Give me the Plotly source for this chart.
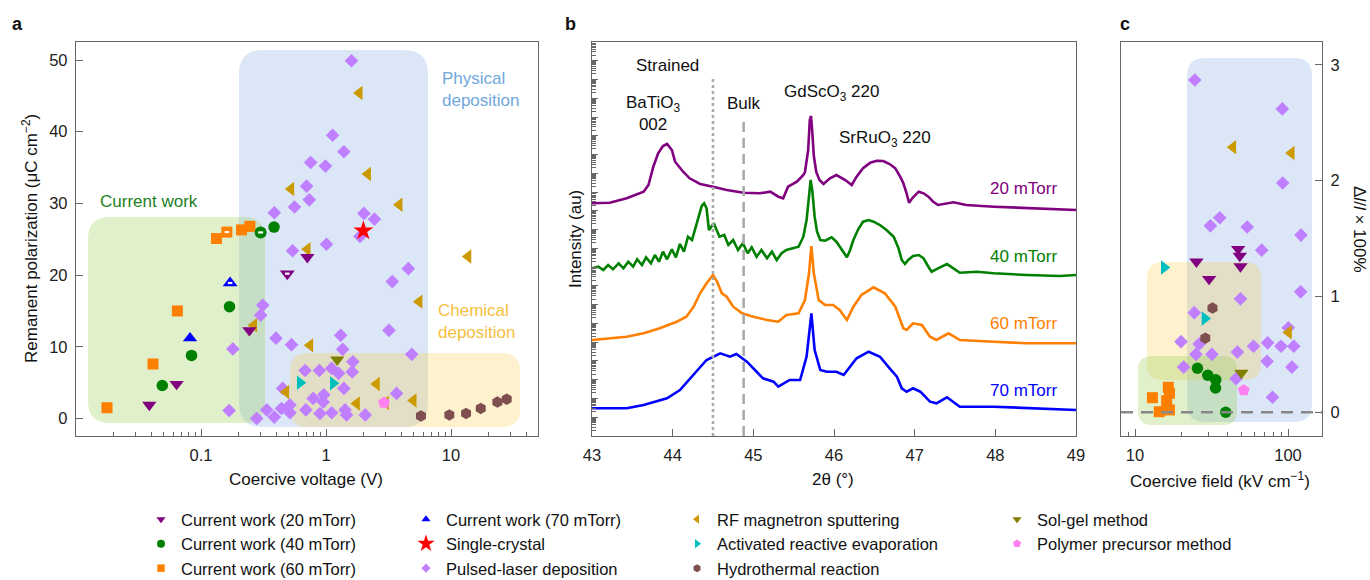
import math
import plotly.graph_objects as go

W, H = 1370, 580
FONT = "Liberation Sans, Arial, sans-serif"

# ---------------- colours ----------------
C20, C40, C60, C70 = "#800080", "#008000", "#FF7F00", "#0000FF"
C_SC, C_PLD, C_RF = "#FF0000", "#BF7FFF", "#CC9900"
C_ARE, C_HYD, C_SG, C_PP = "#00BFBF", "#7F4F4F", "#808000", "#FF80F0"

# ---------------- panel a : Pr vs coercive voltage ----------------
a_cw20_x = [0.0386, 0.0638, 0.244, 0.709]
a_cw20_y = [1.9, 4.8, 12.3, 22.5]
a_cw20h_x = [0.49]
a_cw20h_y = [20.2]
a_cw40_x = [0.049, 0.084, 0.169, 0.384]
a_cw40_y = [4.6, 8.8, 15.6, 26.7]
a_cw40h_x = [0.30]
a_cw40h_y = [25.95]
a_cw60_x = [0.0177, 0.0413, 0.0647, 0.133, 0.211, 0.246]
a_cw60_y = [1.5, 7.6, 15.0, 25.1, 26.3, 26.8]
a_cw60h_x = [0.161]
a_cw60h_y = [26.0]
a_cw70_x = [0.0817]
a_cw70_y = [11.2]
a_cw70h_x = [0.171]
a_cw70h_y = [18.9]
a_sc_x = [1.99]
a_sc_y = [26.2]
a_pld_x = [1.60, 1.13, 1.39, 0.754, 0.99, 0.70, 0.735, 0.56, 0.386, 2.01,
           2.44, 1.87, 0.54, 1.01, 4.56, 3.39, 0.312, 0.30, 0.18, 0.398,
           0.53, 1.31, 3.19, 1.36, 4.85, 1.64, 0.68, 0.885, 1.11, 1.26,
           1.62, 0.45, 1.39, 3.67, 0.79, 0.96, 0.95, 0.168, 0.279, 0.336,
           0.386, 0.44, 0.515, 0.515, 0.69, 0.895, 1.11, 1.42, 1.46, 2.06]
a_pld_y = [49.9, 39.5, 37.2, 35.7, 35.2, 32.4, 30.5, 29.5, 28.7, 28.6,
           27.8, 25.4, 23.4, 24.3, 20.9, 19.1, 15.8, 14.4, 9.7, 11.2,
           10.3, 11.6, 12.3, 9.65, 8.95, 7.9, 6.7, 6.7, 7.0, 6.3,
           6.5, 4.2, 4.2, 3.5, 2.8, 3.3, 2.3, 1.1, 0.0, 1.2,
           0.2, 1.4, 1.9, 0.8, 1.2, 0.7, 0.8, 1.2, 0.5, 0.5]
a_rf_x = [0.265, 0.479, 1.85, 2.16, 0.525, 3.86, 0.71, 13.7, 5.57, 0.745, 2.54, 1.76, 3.0, 5.0]
a_rf_y = [13.0, 3.7, 45.4, 34.1, 32.0, 29.8, 23.6, 22.6, 16.3, 10.2, 4.8, 2.1, 2.2, 2.5]
a_are_x = [0.62, 1.14]
a_are_y = [5.0, 4.9]
a_sg_x = [1.23]
a_sg_y = [8.2]
a_pp_x = [2.91]
a_pp_y = [2.2]
a_hyd_x = [5.75, 9.7, 13.2, 17.3, 23.5, 27.9]
a_hyd_y = [0.35, 0.5, 0.7, 1.4, 2.3, 2.7]

a_xtick_vals = [0.1, 1, 10]
a_xtick_text = ["0.1", "1", "10"]
a_ytick_vals = [0, 10, 20, 30, 40, 50]

# ---------------- panel b : XRD scans ----------------
b20_tt = [43.00, 43.22, 43.43, 43.64, 43.70, 43.76, 43.82, 43.88, 43.93, 43.99, 44.03, 44.07,
          44.13, 44.21, 44.34, 44.50, 44.67, 44.88, 45.08, 45.21, 45.31, 45.37, 45.43, 45.54,
          45.62, 45.64, 45.68, 45.70, 45.715, 45.73, 45.75, 45.78, 45.82, 45.87, 45.95, 46.03,
          46.14, 46.22, 46.28, 46.36, 46.45, 46.53, 46.61, 46.69, 46.76, 46.82, 46.86, 46.90,
          46.93, 46.98, 47.05, 47.11, 47.17, 47.23, 47.29, 47.48, 47.64, 47.98, 48.39, 49.00]
b20_i = [232.7, 233.3, 237.7, 244.3, 251.0, 269.3, 282.7, 290.0, 292.0, 286.0, 274.3, 270.0,
         264.3, 257.7, 252.0, 249.3, 246.0, 243.3, 242.7, 244.3, 239.3, 237.7, 249.3, 254.3,
         261.0, 264.0, 286.0, 316.0, 320.0, 305.0, 280.0, 264.0, 256.0, 252.0, 257.7, 261.0,
         256.0, 251.0, 259.3, 267.7, 273.3, 275.3, 275.0, 272.0, 267.7, 259.3, 252.7, 242.7,
         233.3, 238.7, 244.3, 242.7, 239.3, 234.3, 231.0, 233.7, 231.0, 229.3, 227.7, 226.0]

b40_tt = [43.00, 43.08, 43.14, 43.20, 43.26, 43.33, 43.39, 43.45, 43.51, 43.56, 43.62, 43.67,
          43.73, 43.78, 43.83, 43.88, 43.93, 43.99, 44.04, 44.09, 44.14, 44.19, 44.24, 44.28,
          44.32, 44.36, 44.39, 44.42, 44.45, 44.51, 44.58, 44.64, 44.69, 44.75, 44.81, 44.87,
          44.93, 44.98, 45.04, 45.10, 45.17, 45.23, 45.29, 45.35, 45.41, 45.50, 45.56, 45.62,
          45.66, 45.69, 45.71, 45.73, 45.76, 45.79, 45.83, 45.89, 45.97, 46.03, 46.10, 46.16,
          46.20, 46.24, 46.30, 46.36, 46.43, 46.49, 46.57, 46.65, 46.74, 46.80, 46.84, 46.88,
          46.92, 46.98, 47.05, 47.11, 47.17, 47.21, 47.29, 47.40, 47.48, 47.56, 47.77, 47.98,
          48.39, 48.80, 49.00]
b40_i = [167.7, 169.3, 166.0, 171.0, 166.7, 172.7, 167.7, 174.3, 169.3, 176.7, 171.0, 178.7,
         172.7, 181.0, 174.3, 184.3, 176.7, 186.7, 178.7, 192.0, 184.3, 199.3, 196.0, 207.7,
         219.3, 230.0, 232.7, 227.7, 206.0, 212.7, 199.3, 201.0, 191.0, 196.0, 186.0, 192.7,
         182.7, 188.7, 179.3, 186.0, 177.7, 184.3, 176.0, 182.7, 186.0, 187.7, 189.3, 199.3,
         216.0, 239.3, 256.0, 246.0, 219.3, 204.3, 196.0, 195.3, 198.7, 194.3, 186.0, 178.7,
         186.0, 196.0, 206.7, 214.3, 216.0, 214.3, 211.0, 206.0, 199.3, 187.7, 176.0, 172.0,
         176.0, 180.0, 181.0, 177.7, 169.3, 164.3, 167.7, 172.0, 167.7, 163.3, 164.3, 162.7,
         161.0, 160.0, 161.0]

b60_tt = [43.00, 43.43, 43.64, 43.84, 44.05, 44.17, 44.26, 44.34, 44.42, 44.50, 44.55, 44.61,
          44.67, 44.75, 44.86, 45.00, 45.17, 45.31, 45.41, 45.56, 45.64, 45.69, 45.72, 45.75,
          45.81, 45.89, 45.99, 46.07, 46.16, 46.24, 46.34, 46.49, 46.63, 46.76, 46.86, 46.90,
          46.98, 47.09, 47.19, 47.27, 47.42, 47.56, 47.98, 48.39, 49.00]
b60_i = [96.0, 99.3, 102.7, 107.7, 114.3, 119.3, 129.3, 142.7, 152.7, 161.0, 154.3, 142.7,
         139.3, 129.3, 122.7, 119.3, 116.0, 114.3, 121.0, 122.7, 136.0, 162.7, 190.0, 162.7,
         136.0, 131.0, 131.0, 126.0, 116.0, 129.3, 141.0, 148.7, 142.7, 129.3, 107.7, 106.0,
         112.7, 111.0, 99.3, 96.0, 102.7, 96.0, 94.3, 92.7, 92.7]

b70_tt = [43.00, 43.43, 43.64, 43.93, 44.09, 44.26, 44.42, 44.59, 44.71, 44.79, 44.92, 45.02,
          45.12, 45.25, 45.31, 45.45, 45.58, 45.66, 45.70, 45.72, 45.76, 45.83, 45.91, 46.03,
          46.12, 46.20, 46.28, 46.43, 46.57, 46.69, 46.78, 46.84, 46.90, 46.98, 47.07, 47.19,
          47.27, 47.40, 47.56, 47.98, 48.39, 49.00]
b70_i = [27.7, 27.7, 31.0, 37.7, 46.0, 61.0, 76.0, 82.7, 79.3, 82.0, 74.3, 66.0,
         57.7, 54.3, 49.3, 56.0, 56.0, 79.3, 106.0, 122.7, 86.0, 66.0, 64.3, 64.3,
         61.0, 69.3, 77.7, 84.3, 79.3, 67.7, 59.3, 47.7, 44.3, 47.7, 44.3, 34.3,
         32.7, 38.7, 29.3, 29.3, 27.7, 26.0]

b_strained_tt = 44.50
b_strained_top = 359
b_bulk_tt = 44.88
b_bulk_top = 320
b_xtick_vals = [43, 44, 45, 46, 47, 48, 49]

# ---------------- panel c : strain vs coercive field ----------------
c_cw20_x = [25.2, 30.5, 47.2, 48.4, 48.9]
c_cw20_y = [1.30, 1.15, 1.41, 1.35, 1.26]
c_cw40_x = [25.6, 29.9, 33.7, 33.6, 39.2]
c_cw40_y = [0.38, 0.32, 0.28, 0.21, 0.0]
c_cw60_x = [13.0, 16.5, 16.8, 16.1, 14.4, 16.8]
c_cw60_y = [0.126, 0.216, 0.164, 0.10, 0.005, 0.02]
c_rf_x = [43.7, 105.2, 100.9]
c_rf_y = [2.29, 2.24, 0.69]
c_are_x = [15.5, 28.6]
c_are_y = [1.25, 0.81]
c_hyd_x = [32.1, 28.8]
c_hyd_y = [0.90, 0.64]
c_sg_x = [49.6]
c_sg_y = [0.34]
c_pp_x = [51.4]
c_pp_y = [0.19]
c_pld_x = [24.6, 91.8, 92.3, 31.1, 35.8, 54.1, 67.3, 121.6, 121.0, 48.9, 24.4, 20.0, 26.3,
           25.0, 31.8, 20.8, 46.7, 59.5, 73.6, 90.0, 109.1, 100.5, 73.0, 106.0, 45.8, 79.2]
c_pld_y = [2.87, 2.62, 1.98, 1.61, 1.68, 1.60, 1.40, 1.53, 1.04, 0.98, 0.86, 0.61, 0.59,
           0.50, 0.50, 0.39, 0.52, 0.57, 0.60, 0.57, 0.57, 0.73, 0.44, 0.39, 0.29, 0.13]
c_xtick_vals = [10, 100]
c_ytick_vals = [0, 1, 2, 3]

# ---------------- geometry (pixels) ----------------
A_L, A_R = 76, 538
B_L, B_R = 592, 1076
C_L, C_R = 1121, 1322
TOP, BOT = 42, 436


def px(x):
    return x / W


def py(y):
    return 1 - y / H


def rounded_path(x0, y0, x1, y1, r):
    def P(x, y):
        return f"{px(x):.5f},{py(y):.5f}"
    return (f"M {P(x0 + r, y0)} L {P(x1 - r, y0)} Q {P(x1, y0)} {P(x1, y0 + r)} "
            f"L {P(x1, y1 - r)} Q {P(x1, y1)} {P(x1 - r, y1)} L {P(x0 + r, y1)} "
            f"Q {P(x0, y1)} {P(x0, y1 - r)} L {P(x0, y0 + r)} Q {P(x0, y0)} {P(x0 + r, y0)} Z")


fig = go.Figure()


def add_markers(x, y, xa, ya, symbol, color, size, line=None):
    m = dict(symbol=symbol, color=color, size=size, line=line or dict(width=0))
    fig.add_trace(go.Scatter(x=x, y=y, mode="markers", marker=m, xaxis=xa, yaxis=ya,
                             showlegend=False, hoverinfo="x+y"))


def add_stripe(x, y, xa, ya, size):
    fig.add_trace(go.Scatter(x=x, y=y, mode="markers", xaxis=xa, yaxis=ya, showlegend=False,
                             hoverinfo="skip",
                             marker=dict(symbol="line-ew", size=size,
                                         line=dict(color="white", width=2.2))))


for xa, ya, d in [
    ("x", "y", dict(pld=(a_pld_x, a_pld_y), rf=(a_rf_x, a_rf_y), are=(a_are_x, a_are_y),
                    sg=(a_sg_x, a_sg_y), pp=(a_pp_x, a_pp_y), hyd=(a_hyd_x, a_hyd_y),
                    cw20=(a_cw20_x, a_cw20_y), cw40=(a_cw40_x, a_cw40_y),
                    cw60=(a_cw60_x, a_cw60_y))),
    ("x3", "y3", dict(pld=(c_pld_x, c_pld_y), rf=(c_rf_x, c_rf_y), are=(c_are_x, c_are_y),
                      sg=(c_sg_x, c_sg_y), pp=(c_pp_x, c_pp_y), hyd=(c_hyd_x, c_hyd_y),
                      cw20=(c_cw20_x, c_cw20_y), cw40=(c_cw40_x, c_cw40_y),
                      cw60=(c_cw60_x, c_cw60_y))),
]:
    add_markers(*d["pld"], xa, ya, "diamond", C_PLD, 10.5)
    add_markers(*d["rf"], xa, ya, "triangle-left", C_RF, 12.5)
    add_markers(*d["are"], xa, ya, "triangle-right", C_ARE, 12.5)
    add_markers(*d["sg"], xa, ya, "triangle-down", C_SG, 12.5)
    add_markers(*d["hyd"], xa, ya, "hexagon", C_HYD, 11.5)
    add_markers(*d["pp"], xa, ya, "pentagon", C_PP, 12.5)
    add_markers(*d["cw60"], xa, ya, "square", C60, 11)
    add_markers(*d["cw40"], xa, ya, "circle", C40, 11.5)
    add_markers(*d["cw20"], xa, ya, "triangle-down", C20, 12.5)

# panel a extras: 70 mTorr, half-filled points, single crystal
add_markers(a_cw70_x, a_cw70_y, "x", "y", "triangle-up", C70, 12.5)
add_markers(a_cw70h_x, a_cw70h_y, "x", "y", "triangle-up", C70, 13)
add_stripe(a_cw70h_x, a_cw70h_y, "x", "y", 3.2)
add_markers(a_cw20h_x, a_cw20h_y, "x", "y", "triangle-down", C20, 13)
add_stripe(a_cw20h_x, a_cw20h_y, "x", "y", 3.2)
add_markers(a_cw60h_x, a_cw60h_y, "x", "y", "square", C60, 11)
add_stripe(a_cw60h_x, a_cw60h_y, "x", "y", 3.2)
add_markers(a_cw40h_x, a_cw40h_y, "x", "y", "circle", C40, 12)
add_stripe(a_cw40h_x, a_cw40h_y, "x", "y", 3.6)
add_markers(a_sc_x, a_sc_y, "x", "y", "star", C_SC, 15)

# ---------- panel b curves ----------
for tt, ii, col in [(b20_tt, b20_i, C20), (b40_tt, b40_i, C40),
                    (b60_tt, b60_i, C60), (b70_tt, b70_i, C70)]:
    fig.add_trace(go.Scatter(x=tt, y=ii, mode="lines", line=dict(color=col, width=2.6),
                             xaxis="x2", yaxis="y2", showlegend=False))

# ---------- legend entries (4 columns) ----------
legend_items = [
    ("legend", "Current work (20 mTorr)", "triangle-down", C20, 8),
    ("legend", "Current work (40 mTorr)", "circle", C40, 8),
    ("legend", "Current work (60 mTorr)", "square", C60, 7.5),
    ("legend2", "Current work (70 mTorr)", "triangle-up", C70, 8),
    ("legend2", "Single-crystal", "star", C_SC, 13),
    ("legend2", "Pulsed-laser deposition", "diamond", C_PLD, 7),
    ("legend3", "RF magnetron sputtering", "triangle-left", C_RF, 8),
    ("legend3", "Activated reactive evaporation", "triangle-right", C_ARE, 8),
    ("legend3", "Hydrothermal reaction", "hexagon", C_HYD, 8),
    ("legend4", "Sol-gel method", "triangle-down", C_SG, 8),
    ("legend4", "Polymer precursor method", "pentagon", C_PP, 8.5),
]
for lg, name, sym, col, sz in legend_items:
    fig.add_trace(go.Scatter(x=[None], y=[None], mode="markers", name=name, legend=lg,
                             marker=dict(symbol=sym, color=col, size=sz, line=dict(width=0)),
                             xaxis="x", yaxis="y", showlegend=True))

# ---------- background regions ----------
regions = [
    ((239, 50, 428, 427, 24), "rgba(110,160,220,0.25)"),
    ((88, 217, 265, 423, 22), "rgba(150,205,80,0.30)"),
    ((290, 353, 520, 427, 18), "rgba(250,200,60,0.25)"),
    ((1187, 58, 1312, 422, 18), "rgba(110,160,220,0.25)"),
    ((1147, 262, 1261, 380, 16), "rgba(250,200,60,0.25)"),
    ((1138, 356, 1237, 425, 14), "rgba(150,205,80,0.30)"),
]
shapes = []
for (x0, y0, x1, y1, r), col in regions:
    shapes.append(dict(type="path", xref="paper", yref="paper", layer="below",
                       path=rounded_path(x0, y0, x1, y1, r), fillcolor=col,
                       line=dict(width=0)))

shapes.append(dict(type="line", xref="x2", yref="y2", x0=b_strained_tt, x1=b_strained_tt,
                   y0=0, y1=b_strained_top, line=dict(color="#AAAAAA", width=2.6, dash="dot")))
shapes.append(dict(type="line", xref="x2", yref="y2", x0=b_bulk_tt, x1=b_bulk_tt,
                   y0=0, y1=b_bulk_top, line=dict(color="#AAAAAA", width=2.6, dash="10px,6px")))
shapes.append(dict(type="line", xref="x3 domain", yref="y3", x0=0, x1=1, y0=0, y1=0,
                   line=dict(color="#888888", width=2.6, dash="12px,8px")))

# ---------- axes ----------
tickfont = dict(family=FONT, size=16.5, color="#222222")
common = dict(showline=True, linecolor="#666666", linewidth=1.4, mirror=True, ticks="inside",
              ticklen=7, tickwidth=1.3, tickcolor="#666666", tickfont=tickfont,
              showgrid=False, zeroline=False, ticklabelstandoff=4)

a_minor = [m * 10 ** e for e in (-2, -1, 0) for m in range(2, 10)] + [20, 30, 40]
c_minor = [9] + [m * 10 for m in range(2, 10)]
DEC = 394 / 21.0
b_major = [DEC * k for k in range(1, 21)]
b_minor = [DEC * (k + math.log10(m)) for k in range(0, 21) for m in range(2, 10)
           if DEC * (k + math.log10(m)) < 394]

ydom = [py(BOT), py(TOP)]
fig.update_layout(
    xaxis=dict(common, domain=[px(A_L), px(A_R)], anchor="y", type="log",
               range=[-2.0, 1.696], tickmode="array", tickvals=a_xtick_vals,
               ticktext=a_xtick_text,
               minor=dict(tickmode="array", tickvals=a_minor, ticks="inside", ticklen=4,
                          tickcolor="#666666", tickwidth=1)),
    yaxis=dict(common, domain=ydom, anchor="x", range=[-2.44, 52.51], tickmode="array",
               tickvals=a_ytick_vals),
    xaxis2=dict(common, domain=[px(B_L), px(B_R)], anchor="y2", range=[43, 49],
                tickmode="array", tickvals=b_xtick_vals),
    yaxis2=dict(common, domain=ydom, anchor="x2", range=[0, 394], tickmode="array",
                tickvals=b_major, showticklabels=False, ticklen=6,
                minor=dict(tickmode="array", tickvals=b_minor, ticks="inside", ticklen=3.5,
                           tickcolor="#666666", tickwidth=1)),
    xaxis3=dict(common, domain=[px(C_L), px(C_R)], anchor="y3", type="log",
                range=[0.9085, 2.2222], tickmode="array", tickvals=c_xtick_vals,
                ticktext=["10", "100"],
                minor=dict(tickmode="array", tickvals=c_minor, ticks="inside", ticklen=4,
                           tickcolor="#666666", tickwidth=1)),
    yaxis3=dict(common, domain=ydom, anchor="x3", side="right", range=[-0.205, 3.198],
                tickmode="array", tickvals=c_ytick_vals),
)

# ---------- legends ----------
leg_common = dict(orientation="v", xanchor="left", yanchor="top", bgcolor="rgba(0,0,0,0)",
                  borderwidth=0, font=dict(family=FONT, size=16.5, color="#111111"),
                  itemsizing="trace", tracegroupgap=0)
fig.update_layout(
    legend=dict(leg_common, x=px(141), y=py(502)),
    legend2=dict(leg_common, x=px(406), y=py(502)),
    legend3=dict(leg_common, x=px(677), y=py(502)),
    legend4=dict(leg_common, x=px(997), y=py(502)),
)

# ---------- annotations ----------
ann = []


def text(x, y, s, size=17, color="#111111", xanchor="center", yanchor="middle",
         angle=0, bold=False, xref="paper", yref="paper", align="center"):
    if bold:
        s = f"<b>{s}</b>"
    ann.append(dict(x=x, y=y, xref=xref, yref=yref, text=s, showarrow=False,
                    xanchor=xanchor, yanchor=yanchor, textangle=angle, align=align,
                    font=dict(family=FONT, size=size, color=color)))


# panel letters
text(px(17), py(24), "a", size=18, bold=True)
text(px(570), py(24), "b", size=18, bold=True)
text(px(1125), py(24), "c", size=18, bold=True)

# axis titles
text(px(306), py(479), "Coercive voltage (V)")
text(px(30), py(239), "Remanent polarization (μC cm<sup>−2</sup>)", angle=-90)
text(px(833), py(479), "2θ (°)")
text(px(575), py(239), "Intensity (au)", angle=-90)
text(px(1220), py(480), "Coercive field (kV cm<sup>−1</sup>)")
text(px(1360), py(229), "Δ<i>l</i>/<i>l</i> × 100%", angle=90)

# region labels
text(px(98), py(202), "Current work", color="#1E7F1E", xanchor="left")
text(px(440), py(89), "Physical<br>deposition", color="#6FA8DC", xanchor="left", align="left")
text(px(436), py(321), "Chemical<br>deposition", color="#F5C040", xanchor="left", align="left")

# panel b labels
for x, y, s, col in [
    (43.93, 371, "Strained", "#111111"),
    (43.76, 323, "BaTiO<sub>3</sub><br>002", "#111111"),
    (44.88, 332.7, "Bulk", "#111111"),
    (45.97, 342.7, "GdScO<sub>3</sub> 220", "#111111"),
    (46.63, 296.7, "SrRuO<sub>3</sub> 220", "#111111"),
    (48.35, 247.7, "20 mTorr", C20),
    (48.35, 180.0, "40 mTorr", C40),
    (48.35, 112.7, "60 mTorr", C60),
    (48.35, 46.0, "70 mTorr", C70),
]:
    text(x, y, s, color=col, xref="x2", yref="y2")

fig.update_layout(
    width=W, height=H, autosize=False,
    margin=dict(l=0, r=0, t=0, b=0, autoexpand=False),
    paper_bgcolor="white", plot_bgcolor="rgba(0,0,0,0)",
    font=dict(family=FONT, size=16, color="#111111"),
    shapes=shapes, annotations=ann,
)

fig.write_html("out.html")
